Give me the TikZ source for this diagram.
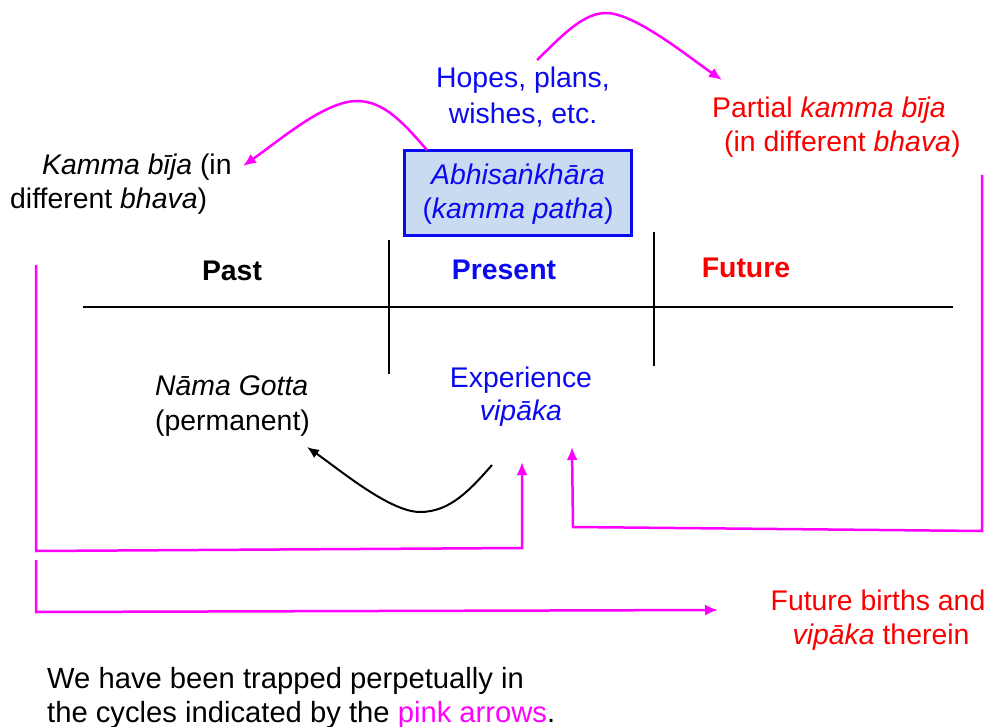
\documentclass[tikz,border=0pt]{standalone}
\usepackage{fontspec}
\setmainfont{Liberation Sans}
\usetikzlibrary{arrows.meta}
\definecolor{tblue}{RGB}{10,10,240}
\definecolor{tred}{RGB}{250,0,0}
\definecolor{tpink}{RGB}{255,0,255}
\definecolor{boxfill}{RGB}{201,219,241}
\begin{document}
\begin{tikzpicture}[x=1pt,y=-1pt,
  txt/.style={inner sep=0pt,font=\fontsize{28.4}{34}\selectfont},
  btxt/.style={inner sep=0pt,font=\fontsize{29.2}{34}\selectfont},
  pinkline/.style={draw=tpink,line width=2.5pt},
  pinkarrow/.style={pinkline,-{Latex[length=13pt,width=11pt]}},
  blackarrow/.style={draw=black,line width=2pt,-{Latex[length=12pt,width=10pt]}},
  axis/.style={draw=black,line width=2pt}]
\useasboundingbox (0,0) rectangle (987,727);
% texts
\node[txt,text=tblue,anchor=base] (hopes1) at (523,88) {Hopes, plans,};
\node[txt,text=tblue,anchor=base] (hopes2) at (523,124) {wishes, etc.};
\node[draw=tblue,line width=3pt,fill=boxfill,minimum width=227pt,minimum height=85pt,inner sep=0pt] (box) at (517.5,193.5) {};
\node[txt,text=tblue,anchor=base] (abhi) at (518,185) {\textit{Abhisaṅkhāra}};
\node[txt,text=tblue,anchor=base] (kpatha) at (518,219) {(\textit{kamma patha})};
\node[txt,anchor=base west] (kb1) at (42,175) {\textit{Kamma bīja} (in};
\node[txt,anchor=base west] (kb2) at (10,209) {different \textit{bhava})};
\node[txt,text=tred,anchor=base west] (pk1) at (712,118) {Partial \textit{kamma bīja}};
\node[txt,text=tred,anchor=base west] (pk2) at (724,152) {(in different \textit{bhava})};
\node[txt,anchor=base] (past) at (232,280) {\textbf{Past}};
\node[txt,text=tblue,anchor=base] (present) at (504,279) {\textbf{Present}};
\node[txt,text=tred,anchor=base] (future) at (746,277) {\textbf{Future}};
\node[txt,anchor=base west] (ng1) at (155,395) {\textit{Nāma Gotta}};
\node[txt,anchor=base west] (ng2) at (155,430) {(permanent)};
\node[txt,text=tblue,anchor=base] (exp1) at (521,387) {Experience};
\node[txt,text=tblue,anchor=base] (exp2) at (521,420) {\textit{vipāka}};
\node[txt,text=tred,anchor=base] (fb1) at (878,610) {Future births and};
\node[txt,text=tred,anchor=base] (fb2) at (881,644) {\textit{vipāka} therein};
\node[btxt,anchor=base west] (bt1) at (47,688) {We have been trapped perpetually in};
\node[btxt,anchor=base west] (bt2) at (47,722) {the cycles indicated by the \textcolor{tpink}{pink arrows}.};
% timeline
\coordinate (hl) at (83,307); \coordinate (hr) at (953,307);
\coordinate (v1t) at (389,240); \coordinate (v1b) at (389,374);
\coordinate (v2t) at (654,232); \coordinate (v2b) at (654,366);
\draw[axis] (hl) -- (hr);
\draw[axis] (v1t) -- (v1b);
\draw[axis] (v2t) -- (v2b);
% top arrows
\coordinate (a1s) at (427,150); \coordinate (a1p) at (357,101); \coordinate (a1e) at (243,166);
\draw[pinkarrow] (a1s) .. controls (405,125) and (385,101) .. (a1p) .. controls (325,101) and (280,140) .. (a1e);
\coordinate (a2s) at (537,60); \coordinate (a2p) at (606,13); \coordinate (a2e) at (722,80);
\draw[pinkarrow] (a2s) .. controls (560,38) and (582,13) .. (a2p) .. controls (635,13) and (690,58) .. (a2e);
% black curve
\coordinate (bs) at (492,465); \coordinate (bm) at (420,512); \coordinate (be) at (307,447);
\draw[blackarrow] (bs) .. controls (470,490) and (450,512) .. (bm) .. controls (390,512) and (340,470) .. (be);
% pink paths
\coordinate (l1a) at (36,265); \coordinate (l1b) at (36,551); \coordinate (l1c) at (522,548); \coordinate (l1d) at (522,462);
\draw[pinkarrow] (l1a) -- (l1b) -- (l1c) -- (l1d);
\coordinate (l2a) at (36,560); \coordinate (l2b) at (36,612); \coordinate (l2c) at (718,610);
\draw[pinkarrow] (l2a) -- (l2b) -- (l2c);
\coordinate (r1a) at (982,175); \coordinate (r1b) at (982,531); \coordinate (r1c) at (573,527); \coordinate (r1d) at (572,447);
\draw[pinkarrow] (r1a) -- (r1b) -- (r1c) -- (r1d);
\end{tikzpicture}
\end{document}
